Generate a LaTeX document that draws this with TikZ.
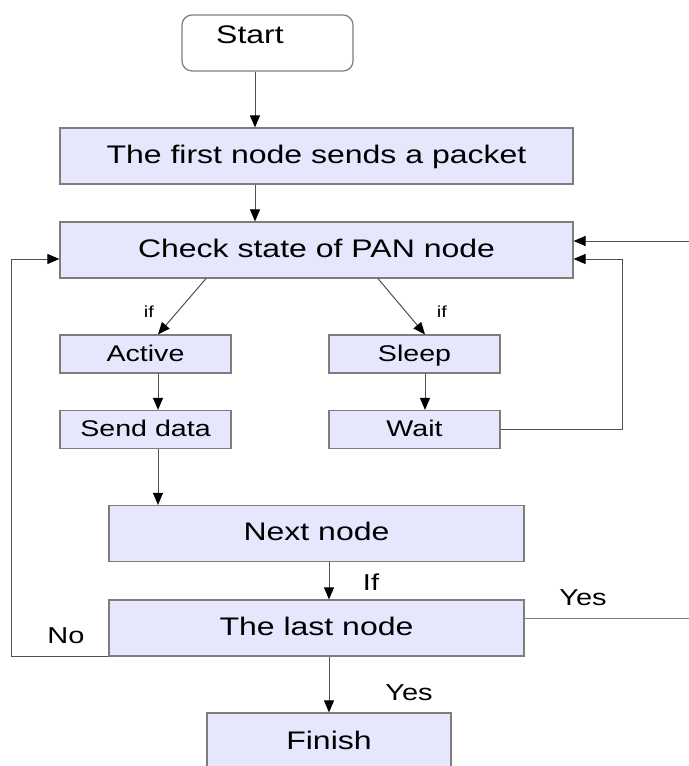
\documentclass[tikz,border=0pt]{standalone}
\usepackage{fontspec}
\setmainfont{Liberation Sans}[FakeStretch=1.26]
\usetikzlibrary{arrows.meta}
\definecolor{boxfill}{RGB}{230,230,252}
\definecolor{boxline}{RGB}{125,125,125}
\definecolor{linegray}{RGB}{80,80,80}
\tikzset{
  box/.style={draw=boxline, fill=boxfill, line width=0.6pt, inner sep=0pt, text height=0.72em, text depth=0pt, font=\fontsize{12.7}{14}\selectfont},
  bigbox/.style={box, minimum width=256.5pt, minimum height=28pt},
  midbox/.style={box, minimum width=207.5pt, minimum height=28pt},
  smallbox/.style={box, minimum width=85.5pt, minimum height=19pt, font=\fontsize{11.35}{13}\selectfont},
  startbox/.style={draw=boxline, rounded corners=5pt, line width=0.6pt, minimum width=85.5pt, minimum height=28pt},
  arr/.style={draw=linegray, line width=0.5pt, -{Triangle[length=6pt,width=5pt,color=black]}},
  plain/.style={draw=boxline, line width=0.5pt},
  lbl/.style={inner sep=0pt, font=\fontsize{11.5}{13}\selectfont},
  tinylbl/.style={inner sep=0pt, font=\fontsize{8}{9}\selectfont},
}
\begin{document}
\begin{tikzpicture}[x=0.5pt,y=-0.5pt]
\clip (0,0) rectangle (689,766);
\fill[white] (0,0) rectangle (689,766);
% boxes
\node[startbox] (start) at (267.5,43) {};
\node[inner sep=0pt, font=\fontsize{12.7}{14}\selectfont] (starttext) at (250,35) {Start};
\node[bigbox] (first) at (316.5,156) {The first node sends a packet};
\node[bigbox] (check) at (316.5,250) {Check state of PAN node};
\node[smallbox] (active) at (145.5,354) {Active};
\node[smallbox] (sleep) at (414.5,354) {Sleep};
\node[smallbox] (send) at (145.5,429.5) {Send data};
\node[smallbox] (wait) at (414.5,429.5) {Wait};
\node[midbox] (next) at (316.5,533.5) {Next node};
\node[midbox] (last) at (316.5,628) {The last node};
\node[box, minimum width=122pt, minimum height=29pt] (finish) at (329,742) {Finish};
% labels
\node[tinylbl] (ifa) at (149,312) {if};
\node[tinylbl] (ifs) at (442,312) {if};
\node[lbl] (iflast) at (371,582) {If};
\node[lbl] (yesright) at (583,598) {Yes};
\node[lbl] (yesdown) at (409,693) {Yes};
\node[lbl] (no) at (66,636) {No};
% helper points
\coordinate (spine) at (255,0);
\coordinate (leftcol) at (158,0);
\coordinate (rightcol) at (425,0);
\coordinate (midcol) at (329,0);
\coordinate (leftx) at (11,0);
\coordinate (waitx) at (622,0);
\coordinate (inr) at (689,241);
\coordinate (outr) at (689,618);
\coordinate (loopin) at (0,259);
\coordinate (topin) at (0,241);
\coordinate (outrow) at (0,618);
% connectors
\draw[arr] (start.south -| spine) -- (first.north -| spine);
\draw[arr] (first.south -| spine) -- (check.north -| spine);
\draw[arr] ([xshift=-55.25pt]check.south) -- (active.north -| leftcol);
\draw[arr] ([xshift=30.75pt]check.south) -- (sleep.north -| rightcol);
\draw[arr] (active.south -| leftcol) -- (send.north -| leftcol);
\draw[arr] (sleep.south -| rightcol) -- (wait.north -| rightcol);
\draw[arr] (send.south -| leftcol) -- (next.north -| leftcol);
\draw[arr] (wait.east) -| (waitx |- loopin) -- (check.east |- loopin);
\draw[arr] (inr) -- (check.east |- topin);
\draw[arr] (next.south -| midcol) -- (last.north -| midcol);
\draw[plain] (last.east |- outrow) -- (outr);
\draw[arr] (last.south -| midcol) -- (finish.north);
\draw[arr] (last.south west) -- (leftx |- last.south west) -- (leftx |- loopin) -- (check.west |- loopin);
\end{tikzpicture}
\end{document}
